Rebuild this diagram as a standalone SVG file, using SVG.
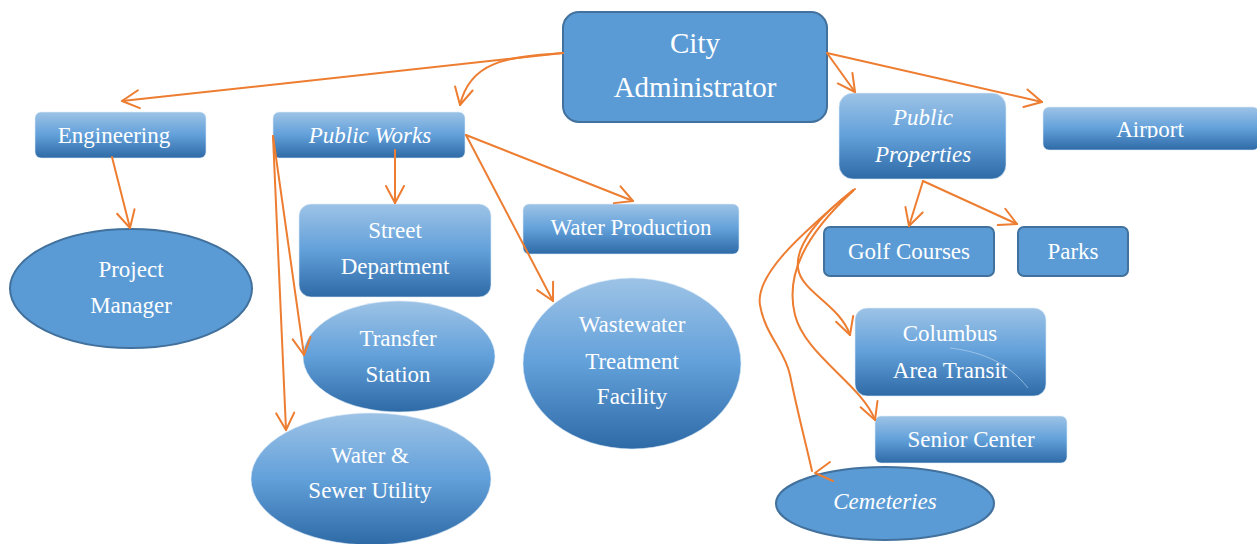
<svg xmlns="http://www.w3.org/2000/svg" width="1257" height="544" viewBox="0 0 1257 544">
<style>
.solid{fill:#5B9BD5;stroke:#41719C;stroke-width:2}
.grad{fill:url(#g);stroke:#DDEBF7;stroke-width:1;stroke-opacity:0.6}
.t{font-family:"Liberation Serif","Times New Roman",serif;font-size:23px;fill:#FFFFFF;text-anchor:middle}
.it{font-style:italic}
.big{font-size:29px}
.c{fill:none;stroke:#ED7D31;stroke-width:2;stroke-linecap:round;stroke-linejoin:round}
.ca{marker-end:url(#arr)}
</style>
<defs>
<linearGradient id="g" x1="0" y1="0" x2="0" y2="1">
<stop offset="0" stop-color="#9DC3E6"/>
<stop offset="0.5" stop-color="#62A0DA"/>
<stop offset="1" stop-color="#2E6AA6"/>
</linearGradient>
<marker id="arr" viewBox="0 0 20 20" refX="18" refY="10" markerWidth="20" markerHeight="20" markerUnits="userSpaceOnUse" orient="auto" overflow="visible">
<path d="M1,1 L18,10 L1,19" fill="none" stroke="#ED7D31" stroke-width="2" stroke-linecap="round" stroke-linejoin="round"/>
</marker>
<clipPath id="apclip"><rect x="1043" y="107" width="214" height="31"/></clipPath>
</defs>

<g id="city-administrator">
<rect class="solid" x="563" y="12" width="264" height="110" rx="16"/>
<text class="t big" x="695" y="53">City</text>
<text class="t big" x="695" y="97">Administrator</text>
</g>

<g id="engineering">
<rect class="grad" x="35" y="112" width="171" height="46" rx="6"/>
<text class="t" x="114" y="143">Engineering</text>
</g>

<g id="public-works">
<rect class="grad" x="273" y="112" width="192" height="46" rx="6"/>
<text class="t it" x="370" y="143">Public Works</text>
</g>

<g id="public-properties">
<rect class="grad" x="839" y="93" width="167" height="86" rx="14"/>
<text class="t it" x="923" y="125">Public</text>
<text class="t it" x="923" y="162">Properties</text>
</g>

<g id="airport">
<rect class="grad" x="1043" y="107" width="216" height="43" rx="6"/>
<text class="t" x="1150" y="137" clip-path="url(#apclip)">Airport</text>
</g>

<g id="golf-courses">
<rect class="solid" x="824" y="227" width="170" height="49" rx="6"/>
<text class="t" x="909" y="259">Golf Courses</text>
</g>

<g id="parks">
<rect class="solid" x="1018" y="227" width="110" height="49" rx="6"/>
<text class="t" x="1073" y="259">Parks</text>
</g>

<g id="project-manager">
<ellipse class="solid" cx="131" cy="288.5" rx="121" ry="59.5"/>
<text class="t" x="131" y="277">Project</text>
<text class="t" x="131" y="313">Manager</text>
</g>

<g id="street-department">
<rect class="grad" x="299" y="204" width="192" height="93" rx="12"/>
<text class="t" x="395" y="238">Street</text>
<text class="t" x="395" y="274">Department</text>
</g>

<g id="transfer-station">
<ellipse class="grad" cx="399" cy="356.5" rx="96" ry="55.5"/>
<text class="t" x="398" y="346">Transfer</text>
<text class="t" x="398" y="382">Station</text>
</g>

<g id="water-sewer-utility">
<ellipse class="grad" cx="371" cy="479" rx="120" ry="66"/>
<text class="t" x="370" y="463">Water &amp;</text>
<text class="t" x="370" y="498">Sewer Utility</text>
</g>

<g id="water-production">
<rect class="grad" x="523" y="204" width="216" height="50" rx="6"/>
<text class="t" x="631" y="235">Water Production</text>
</g>

<g id="wastewater-treatment-facility">
<ellipse class="grad" cx="632" cy="363.5" rx="109" ry="85.5"/>
<text class="t" x="632" y="332">Wastewater</text>
<text class="t" x="632" y="369">Treatment</text>
<text class="t" x="632" y="404">Facility</text>
</g>

<g id="columbus-area-transit">
<rect class="grad" x="855" y="308" width="191" height="88" rx="12"/>
<path d="M950,348 C985,352 1010,365 1028,388" fill="none" stroke="#BDD7EE" stroke-width="1" stroke-opacity="0.6"/>
<text class="t" x="950" y="341">Columbus</text>
<text class="t" x="950" y="378">Area Transit</text>
</g>

<g id="senior-center">
<rect class="grad" x="875" y="416" width="192" height="47" rx="6"/>
<text class="t" x="971" y="447">Senior Center</text>
</g>

<g id="cemeteries">
<ellipse class="solid" cx="885" cy="503.5" rx="109" ry="36.5"/>
<text class="t it" x="885" y="509">Cemeteries</text>
</g>

<g id="connectors">
<path class="c ca" d="M563,53 L122,101"/>
<path class="c ca" d="M563,53 C505,57 470,62 460,105"/>
<path class="c ca" d="M827,53 L855,92"/>
<path class="c ca" d="M827,53 L1042,102"/>
<path class="c ca" d="M112,157 L130,228"/>
<path class="c ca" d="M395,150 L395,203"/>
<path class="c ca" d="M273,136 L304,355"/>
<path class="c ca" d="M273,136 L286,430"/>
<path class="c ca" d="M466,135 L633,201"/>
<path class="c ca" d="M466,135 L553,301"/>
<path class="c ca" d="M923,181 L909,226"/>
<path class="c ca" d="M923,181 L1017,224"/>
<path class="c ca" d="M855,189 C820,215 795,245 798,268 C801,292 840,305 850,335"/>
<path class="c ca" d="M853,191 C805,235 785,275 795,315 C805,355 862,385 875,420"/>
<path class="c" d="M853,190 C800,235 755,275 760,305 C765,335 785,350 790,375 C797,410 805,440 812,471"/>
<polyline class="c" points="830,462 815,473 833,481"/>
</g>
</svg>
